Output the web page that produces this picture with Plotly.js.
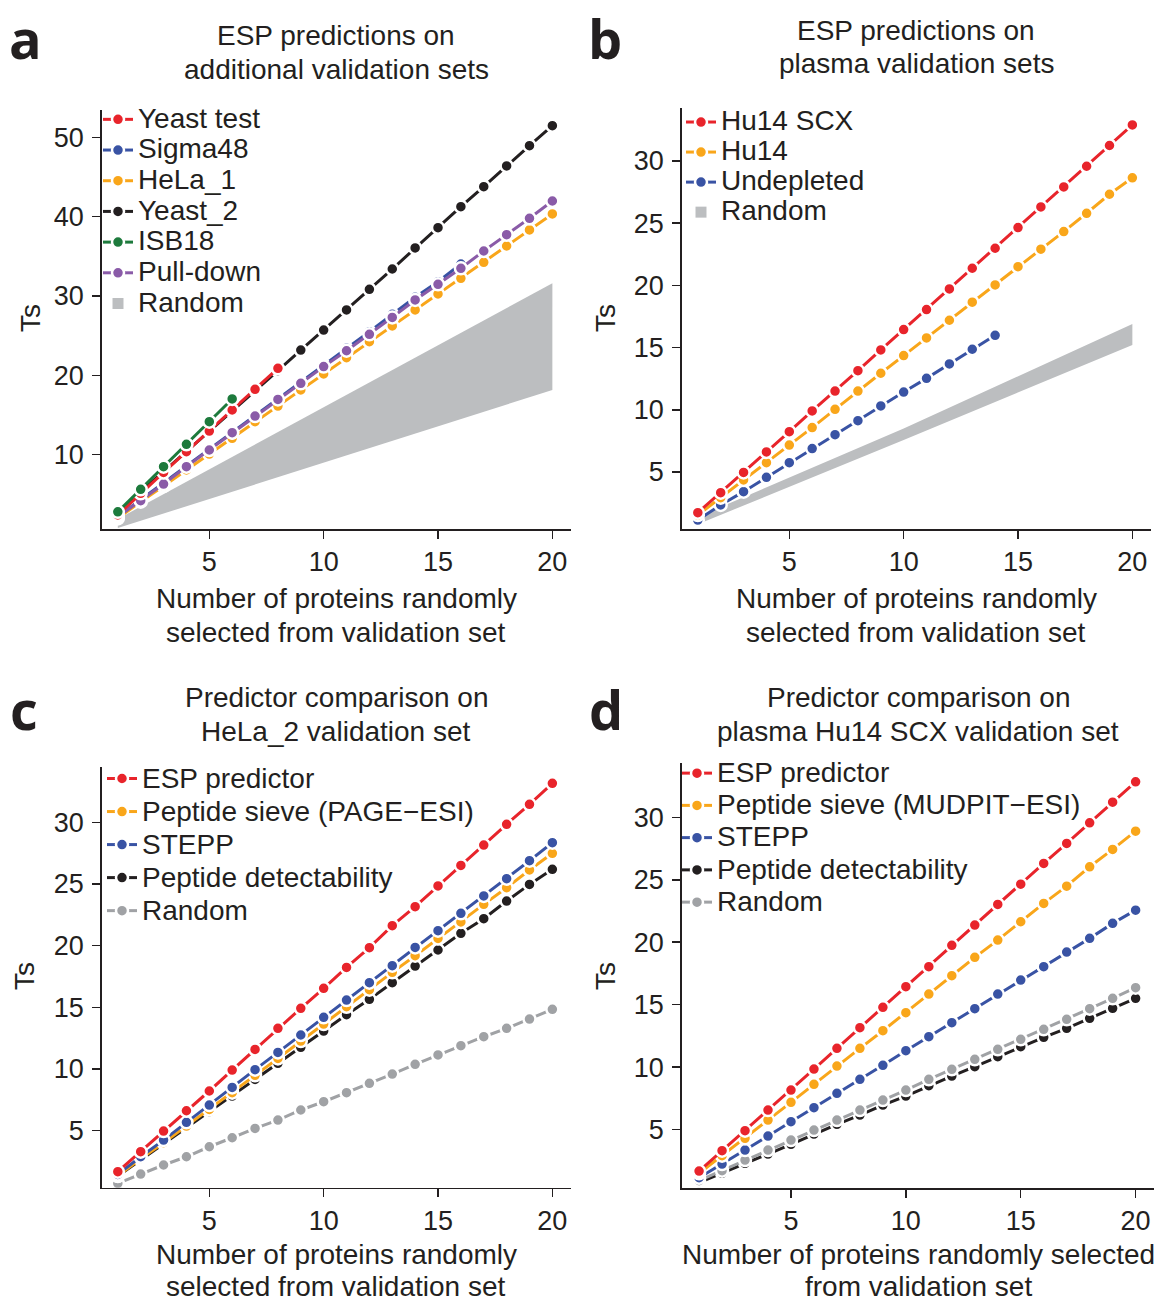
<!DOCTYPE html>
<html>
<head>
<meta charset="utf-8">
<script src="https://cdn.plot.ly/plotly-3.0.1.min.js"></script>
<style>html,body{margin:0;padding:0;background:#fff;}#chart{width:1160px;height:1302px;}</style>
</head>
<body>
<div id="chart"></div>
<script>
// ---------- data ----------
const nProteins = [1,2,3,4,5,6,7,8,9,10,11,12,13,14,15,16,17,18,19,20];
const xTicks = [5,10,15,20];

// panel a: ESP predictions on additional validation sets
const a_yeast_test = [2.40,5.13,7.77,10.38,12.98,15.63,18.24,20.88];
const a_sigma48 = [2.20,4.29,6.39,8.57,10.70,12.80,15.00,17.10,19.20,21.30,23.40,25.50,27.69,29.83,31.80,34.03];
const a_hela1 = [1.97,4.08,6.05,8.07,10.08,12.06,14.16,16.13,18.15,20.17,22.23,24.24,26.22,28.24,30.25,32.23,34.24,36.30,38.32,40.34];
const a_yeast2 = [2.60,5.34,7.86,10.40,12.90,15.42,18.07,20.59,23.19,25.71,28.24,30.84,33.40,36.05,38.61,41.26,43.78,46.39,48.95,51.47];
const a_isb18 = [2.80,5.63,8.49,11.30,14.16,17.02];
const a_pulldown = [2.18,4.20,6.30,8.49,10.59,12.77,14.87,16.97,18.99,21.10,23.10,25.17,27.30,29.50,31.47,33.49,35.67,37.73,39.79,41.97];
const a_random_x = [1,10,20];
const a_random_lo = [0.75,8.95,18.16];
const a_random_hi = [1.90,16.00,31.60];
const a_yTicks = [10,20,30,40,50];

// panel b: ESP predictions on plasma validation sets
const b_hu14scx = [1.73,3.34,4.97,6.61,8.24,9.91,11.51,13.15,14.81,16.45,18.06,19.72,21.38,22.99,24.65,26.31,27.92,29.58,31.25,32.90];
const b_hu14 = [1.54,2.94,4.36,5.75,7.17,8.57,10.04,11.51,12.94,14.36,15.78,17.20,18.65,20.04,21.51,22.91,24.33,25.80,27.33,28.65];
const b_undepleted = [1.14,2.35,3.42,4.57,5.75,6.88,8.00,9.13,10.31,11.43,12.53,13.69,14.87,15.99];
const b_random_x = [1,10,20];
const b_random_lo = [0.80,7.57,15.21];
const b_random_hi = [1.40,8.50,16.90];
const b_yTicks = [5,10,15,20,25,30];

// panel c: predictor comparison on HeLa_2
const c_esp = [1.68,3.30,4.97,6.62,8.22,9.92,11.59,13.30,14.92,16.54,18.24,19.84,21.62,23.16,24.84,26.51,28.16,29.84,31.46,33.16];
const c_sieve = [1.35,2.73,4.03,5.38,6.73,8.08,9.49,10.86,12.27,13.65,15.05,16.43,17.84,19.19,20.59,21.92,23.35,24.70,26.14,27.49];
const c_stepp = [1.46,2.89,4.24,5.68,7.08,8.51,9.95,11.35,12.76,14.19,15.59,17.00,18.38,19.86,21.22,22.62,24.03,25.43,26.89,28.35];
const c_detect = [1.32,2.62,3.97,5.24,6.54,7.81,9.16,10.46,11.76,13.08,14.41,15.65,17.00,18.35,19.65,21.00,22.19,23.62,24.97,26.19];
const c_random = [0.73,1.49,2.22,2.89,3.70,4.43,5.19,5.86,6.68,7.35,8.08,8.84,9.59,10.38,11.14,11.89,12.62,13.30,14.05,14.84];
const c_yTicks = [5,10,15,20,25,30];

// panel d: predictor comparison on plasma Hu14 SCX
const d_esp = [1.69,3.32,4.92,6.57,8.17,9.85,11.51,13.16,14.79,16.44,18.04,19.75,21.37,23.03,24.65,26.31,27.91,29.56,31.21,32.84];
const d_sieve = [1.51,2.92,4.31,5.77,7.19,8.63,10.09,11.51,12.92,14.36,15.85,17.32,18.79,20.17,21.64,23.11,24.49,26.04,27.43,28.89];
const d_stepp = [1.16,2.25,3.37,4.49,5.64,6.76,7.91,9.03,10.15,11.32,12.44,13.56,14.68,15.85,16.97,18.04,19.21,20.31,21.51,22.57];
const d_detect = [0.76,1.51,2.31,3.05,3.83,4.65,5.43,6.17,6.97,7.69,8.52,9.29,10.04,10.84,11.64,12.39,13.11,13.91,14.71,15.51];
const d_random = [0.92,1.72,2.57,3.37,4.17,4.97,5.77,6.57,7.37,8.17,9.03,9.83,10.63,11.43,12.23,13.03,13.83,14.68,15.51,16.36];
const d_yTicks = [5,10,15,20,25,30];

// ---------- style ----------
const FONT = '"Liberation Sans", Arial, Helvetica, sans-serif';
const TXT = '#231F20';
const RED = '#E8242B', BLUE = '#3953A4', ORANGE = '#F9A61A', BLACK = '#231F20',
      GREEN = '#1D7A3C', PURPLE = '#8A5BA8', GRAYLINE = '#A0A2A5', BAND = '#BCBEC0';
const W = 1160, H = 1302;

function lbl(s){ return '<span style="font-size:28px">' + s + '</span>'; }

function series(x, y, color, name, xa, ya, leg, rank){
  return {
    x: x.slice(0, y.length), y: y, type: 'scatter', mode: 'lines+markers',
    name: lbl(name), xaxis: xa, yaxis: ya, legend: leg, legendrank: rank,
    line: {color: color, width: 3},
    marker: {color: color, size: 12, line: {color: '#ffffff', width: 2.5}},
    hoverinfo: 'skip'
  };
}
function band(x, lo, hi, xa, ya, leg, rank){
  return [
    {x: x, y: lo, type: 'scatter', mode: 'lines', line: {width: 0, color: BAND},
     xaxis: xa, yaxis: ya, showlegend: false, hoverinfo: 'skip', legend: leg},
    {x: x, y: hi, type: 'scatter', mode: 'lines', line: {width: 0, color: BAND},
     fill: 'tonexty', fillcolor: BAND, xaxis: xa, yaxis: ya, showlegend: false, hoverinfo: 'skip', legend: leg},
    {x: [null], y: [null], type: 'scatter', mode: 'markers', name: lbl('Random'),
     marker: {symbol: 'square', size: 11, color: BAND}, xaxis: xa, yaxis: ya, legend: leg, legendrank: rank, hoverinfo: 'skip'}
  ];
}

const traces = [];
// panel a (draw order differs from legend order)
traces.push(...band(a_random_x, a_random_lo, a_random_hi, 'x', 'y', 'legend', 7));
traces.push(series(nProteins, a_yeast2, BLACK, 'Yeast_2', 'x', 'y', 'legend', 4));
traces.push(series(nProteins, a_hela1, ORANGE, 'HeLa_1', 'x', 'y', 'legend', 3));
traces.push(series(nProteins, a_sigma48, BLUE, 'Sigma48', 'x', 'y', 'legend', 2));
traces.push(series(nProteins, a_pulldown, PURPLE, 'Pull-down', 'x', 'y', 'legend', 6));
traces.push(series(nProteins, a_yeast_test, RED, 'Yeast test', 'x', 'y', 'legend', 1));
traces.push(series(nProteins, a_isb18, GREEN, 'ISB18', 'x', 'y', 'legend', 5));
// panel b
traces.push(...band(b_random_x, b_random_lo, b_random_hi, 'x2', 'y2', 'legend2', 4));
traces.push(series(nProteins, b_undepleted, BLUE, 'Undepleted', 'x2', 'y2', 'legend2', 3));
traces.push(series(nProteins, b_hu14, ORANGE, 'Hu14', 'x2', 'y2', 'legend2', 2));
traces.push(series(nProteins, b_hu14scx, RED, 'Hu14 SCX', 'x2', 'y2', 'legend2', 1));
// panel c
traces.push(series(nProteins, c_random, GRAYLINE, 'Random', 'x3', 'y3', 'legend3', 5));
traces.push(series(nProteins, c_detect, BLACK, 'Peptide detectability', 'x3', 'y3', 'legend3', 4));
traces.push(series(nProteins, c_sieve, ORANGE, 'Peptide sieve (PAGE\u2212ESI)', 'x3', 'y3', 'legend3', 2));
traces.push(series(nProteins, c_stepp, BLUE, 'STEPP', 'x3', 'y3', 'legend3', 3));
traces.push(series(nProteins, c_esp, RED, 'ESP predictor', 'x3', 'y3', 'legend3', 1));
// panel d
traces.push(series(nProteins, d_detect, BLACK, 'Peptide detectability', 'x4', 'y4', 'legend4', 4));
traces.push(series(nProteins, d_random, GRAYLINE, 'Random', 'x4', 'y4', 'legend4', 5));
traces.push(series(nProteins, d_stepp, BLUE, 'STEPP', 'x4', 'y4', 'legend4', 3));
traces.push(series(nProteins, d_sieve, ORANGE, 'Peptide sieve (MUDPIT\u2212ESI)', 'x4', 'y4', 'legend4', 2));
traces.push(series(nProteins, d_esp, RED, 'ESP predictor', 'x4', 'y4', 'legend4', 1));

function xaxis(domain, range, anchor){
  return {domain: domain, range: range, anchor: anchor, tickvals: xTicks, ticktext: xTicks.map(String),
    ticks: 'outside', ticklen: 8, tickwidth: 1.5, tickcolor: TXT, showline: true, linecolor: TXT, linewidth: 1.5,
    showgrid: false, zeroline: false, tickfont: {family: FONT, size: 27, color: TXT}, ticklabelstandoff: 0, fixedrange: true};
}
function yaxis(domain, range, anchor, ticks){
  return {domain: domain, range: range, anchor: anchor, tickvals: ticks, ticktext: ticks.map(String),
    ticks: 'outside', ticklen: 8, tickwidth: 1.5, tickcolor: TXT, showline: true, linecolor: TXT, linewidth: 1.5,
    showgrid: false, zeroline: false, tickfont: {family: FONT, size: 27, color: TXT}, ticklabelstandoff: 3, fixedrange: true};
}
function px(x){ return x / W; }
function py(y){ return 1 - y / H; }

function legendCfg(xpix, ypix, fs){
  return {x: px(xpix), y: py(ypix), xanchor: 'left', yanchor: 'top', xref: 'paper', yref: 'paper',
    bgcolor: 'rgba(0,0,0,0)', borderwidth: 0, font: {family: FONT, size: fs, color: TXT},
    itemwidth: 30, tracegroupgap: 0, traceorder: 'normal', itemclick: false, itemdoubleclick: false};
}

function ann(text, xpix, ypix, opts){
  return Object.assign({text: text, x: px(xpix), y: py(ypix), xref: 'paper', yref: 'paper',
    showarrow: false, xanchor: 'center', yanchor: 'middle',
    font: {family: FONT, size: 28, color: TXT}}, opts || {});
}
const LETTER = {family: 'Open Sans, sans-serif', size: 54, color: TXT, weight: 700};

const annotations = [
  ann('<b>a</b>', 25, 38, {font: LETTER}),
  ann('<b>b</b>', 605, 38, {font: LETTER}),
  ann('<b>c</b>', 24, 709, {font: LETTER}),
  ann('<b>d</b>', 606, 709, {font: LETTER}),
  ann('ESP predictions on', 336, 36), ann('additional validation sets', 336, 70),
  ann('ESP predictions on', 916, 30), ann('plasma validation sets', 916, 64),
  ann('Predictor comparison on', 336, 697), ann('HeLa_2 validation set', 336, 731),
  ann('Predictor comparison on', 918, 697), ann('plasma Hu14 SCX validation set', 918, 731),
  ann('Number of proteins randomly', 336, 598), ann('selected from validation set', 336, 632),
  ann('Number of proteins randomly', 916, 598), ann('selected from validation set', 916, 632),
  ann('Number of proteins randomly', 336, 1254), ann('selected from validation set', 336, 1286),
  ann('Number of proteins randomly selected', 918, 1254), ann('from validation set', 918, 1286),
  ann('Ts', 31, 318, {textangle: -90}),
  ann('Ts', 606, 318, {textangle: -90}),
  ann('Ts', 24, 976, {textangle: -90}),
  ann('Ts', 605, 976, {textangle: -90})
];

const layout = {
  width: W, height: H, margin: {l: 0, r: 0, t: 0, b: 0}, paper_bgcolor: '#ffffff', plot_bgcolor: '#ffffff',
  font: {family: FONT, color: TXT}, hovermode: false,
  xaxis:  xaxis([px(101.7), px(571)], [0.295, 20.815], 'y'),
  yaxis:  yaxis([py(529.3), py(110)], [0.596, 53.44], 'x', a_yTicks),
  xaxis2: xaxis([px(681.7), px(1151)], [0.295, 20.815], 'y2'),
  yaxis2: yaxis([py(529.3), py(108.3)], [0.394, 34.24], 'x2', b_yTicks),
  xaxis3: xaxis([px(101.7), px(571)], [0.295, 20.815], 'y3'),
  yaxis3: yaxis([py(1187.7), py(766.7)], [0.381, 34.51], 'x3', c_yTicks),
  xaxis4: xaxis([px(681.7), px(1154)], [0.244, 20.80], 'y4'),
  yaxis4: yaxis([py(1188), py(763.3)], [0.333, 34.32], 'x4', d_yTicks),
  legend:  legendCfg(98, 99, 21.3),
  legend2: legendCfg(681, 102, 20.8),
  legend3: legendCfg(102, 757, 23.1),
  legend4: legendCfg(677, 752, 22.5),
  annotations: annotations,
  showlegend: true
};

Plotly.newPlot('chart', traces, layout, {staticPlot: true, displayModeBar: false});
</script>
</body>
</html>
